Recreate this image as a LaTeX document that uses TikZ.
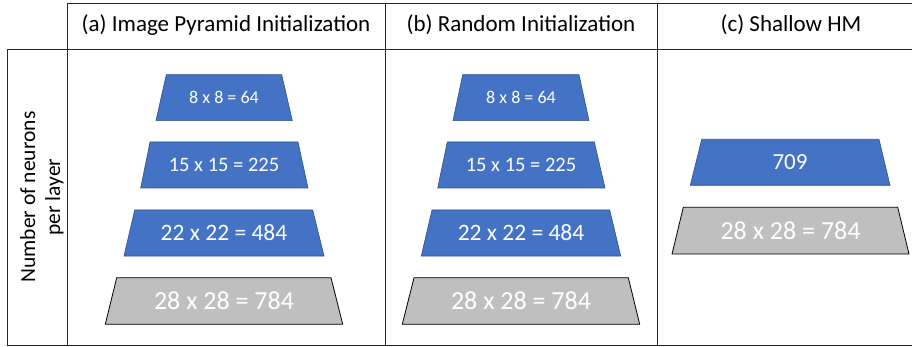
\documentclass[tikz,border=0pt]{standalone}
\usepackage{fontspec}
\setmainfont{Carlito}
\definecolor{layerblue}{HTML}{4472C4}
\definecolor{layeredge}{HTML}{2F528F}
\definecolor{inputgray}{HTML}{BFBFBF}
\begin{document}
\begin{tikzpicture}[x=1pt,y=-1pt,
  gridline/.style={draw=black!85,line width=0.9pt},
  hidden/.style={fill=layerblue,draw=layeredge,line width=0.6pt},
  inputlayer/.style={fill=inputgray,draw=black,line width=0.8pt},
  lbl/.style={text=white,inner sep=0pt,anchor=center},
  head/.style={font=\fontsize{23}{27}\selectfont,inner sep=0pt,anchor=center}]
\useasboundingbox (0,0) rectangle (912,347);
\fill[white] (0,0) rectangle (912,347);

% table rules
\draw[gridline] (67,3) -- (912,3);
\draw[gridline] (7,49) -- (912,49);
\draw[gridline] (7,345.5) -- (912,345.5);
\draw[gridline] (7,49) -- (7,345.5);
\draw[gridline] (67,3) -- (67,345.5);
\draw[gridline] (385,3) -- (385,345.5);
\draw[gridline] (657,3) -- (657,345.5);

% column headings
\node[head] (ha) at (226,25) {(a) Image Pyramid Initialization};
\node[head] (hb) at (521,25) {(b) Random Initialization};
\node[head] (hc) at (791,25) {(c) Shallow HM};
\node[rotate=90,align=center,inner sep=0pt,font=\fontsize{21.5}{25}\selectfont] (rowlbl) at (42,197) {Number of neurons\\per layer};

% (a) image pyramid initialization
\path[hidden] (166.3,74.7) -- (281.7,74.7) -- (292.3,120.7) -- (156,120.7) -- cycle;
\node[lbl,font=\fontsize{18}{20}\selectfont] (a1) at (224,97.7) {8 x 8 = 64};
\path[hidden] (150,142) -- (298,142) -- (308,188) -- (140.7,188) -- cycle;
\node[lbl,font=\fontsize{20.5}{22}\selectfont] (a2) at (224,165) {15 x 15 = 225};
\path[hidden] (134.7,210) -- (312.7,210) -- (324,256) -- (124,256) -- cycle;
\node[lbl,font=\fontsize{23.5}{25}\selectfont] (a3) at (224,233) {22 x 22 = 484};
\path[inputlayer] (116.7,277.7) -- (331,277.7) -- (342.7,324.3) -- (105.3,324.3) -- cycle;
\node[lbl,font=\fontsize{26}{28}\selectfont] (a4) at (224,301) {28 x 28 = 784};

% (b) random initialization
\path[hidden] (462.7,74.7) -- (579,74.7) -- (589,120.7) -- (453,120.7) -- cycle;
\node[lbl,font=\fontsize{18}{20}\selectfont] (b1) at (521,97.7) {8 x 8 = 64};
\path[hidden] (447.3,142) -- (594.3,142) -- (605,188) -- (437.7,188) -- cycle;
\node[lbl,font=\fontsize{20.5}{22}\selectfont] (b2) at (521,165) {15 x 15 = 225};
\path[hidden] (432,210) -- (609.7,210) -- (620.7,256) -- (421.3,256) -- cycle;
\node[lbl,font=\fontsize{23.5}{25}\selectfont] (b3) at (521,233) {22 x 22 = 484};
\path[inputlayer] (414,277.7) -- (628.3,277.7) -- (639.7,324.3) -- (402.3,324.3) -- cycle;
\node[lbl,font=\fontsize{26}{28}\selectfont] (b4) at (521,301) {28 x 28 = 784};

% (c) shallow HM
\path[hidden] (701.7,139.3) -- (879,139.3) -- (890,185.3) -- (690.3,185.3) -- cycle;
\node[lbl,font=\fontsize{23}{25}\selectfont] (c1) at (790,162.3) {709};
\path[inputlayer] (683.3,207.3) -- (897.7,207.3) -- (909,254) -- (672,254) -- cycle;
\node[lbl,font=\fontsize{26}{28}\selectfont] (c2) at (790.5,230.7) {28 x 28 = 784};
\end{tikzpicture}
\end{document}
